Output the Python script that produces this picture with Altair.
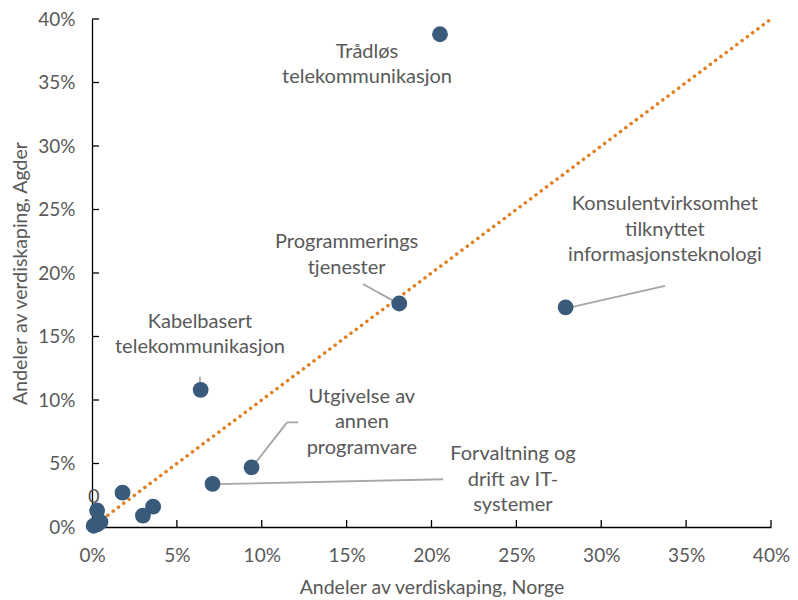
import altair as alt
import pandas as pd

# Data (shares, fraction)
norge = [0.205, 0.181, 0.279, 0.064, 0.094, 0.071, 0.018, 0.036, 0.030, 0.003, 0.001, 0.005, 0.003]
agder = [0.388, 0.176, 0.173, 0.108, 0.047, 0.034, 0.027, 0.016, 0.009, 0.013, 0.001, 0.004, 0.002]

label_text = [
    "Trådløs\ntelekommunikasjon",
    "Programmerings\ntjenester",
    "Konsulentvirksomhet\ntilknyttet\ninformasjonsteknologi",
    "Kabelbasert\ntelekommunikasjon",
    "Utgivelse av\nannen\nprogramvare",
    "Forvaltning og\ndrift av IT-\nsystemer",
    "0",
]
label_x = [0.162, 0.150, 0.3375, 0.0636, 0.159, 0.248, 0.001]
label_y = [0.3741, 0.2243, 0.2541, 0.1616, 0.1027, 0.0573, 0.0235]

lead_x = [0.1596, 0.3376, 0.0636, 0.1214, 0.1149, 0.2068]
lead_y = [0.1914, 0.1898, 0.1184, 0.0824, 0.0824, 0.0376]
lead_x2 = [0.1797, 0.2804, 0.0636, 0.1149, 0.0943, 0.0725]
lead_y2 = [0.1765, 0.1725, 0.1098, 0.0824, 0.0471, 0.0337]

ticks = [0, 0.05, 0.1, 0.15, 0.2, 0.25, 0.3, 0.35, 0.4]
diag = [0.0, 0.40]

pts = pd.DataFrame({"x": norge, "y": agder})
labels = pd.DataFrame({"x": label_x, "y": label_y, "t": label_text})
leads = pd.DataFrame({"x": lead_x, "y": lead_y, "x2": lead_x2, "y2": lead_y2})
dline = pd.DataFrame({"x": diag, "y": diag})
tk = pd.DataFrame({"v": ticks})

FONT = "Lato"
GREY = "#595959"

xs = alt.Scale(domain=[0, 0.40], nice=False, zero=True)
ys = alt.Scale(domain=[0, 0.40], nice=False, zero=True)

xax = alt.Axis(format=".0%", values=ticks, grid=False, domainColor="black", domainWidth=1.3,
               ticks=False, labelFlush=False,
               labelColor=GREY, labelFont=FONT, labelFontSize=19, labelPadding=19,
               title="Andeler av verdiskaping, Norge", titleColor=GREY, titleFont=FONT,
               titleFontSize=19.5, titleFontWeight="normal", titlePadding=13)
yax = alt.Axis(format=".0%", values=ticks, grid=False, domainColor="black", domainWidth=1.3,
               ticks=False, labelFlush=False,
               labelColor=GREY, labelFont=FONT, labelFontSize=19, labelPadding=17,
               title="Andeler av verdiskaping, Agder", titleColor=GREY, titleFont=FONT,
               titleFontSize=19.5, titleFontWeight="normal", titlePadding=7)

line = alt.Chart(dline).mark_line(color="#E07F1F", strokeWidth=3.5, strokeDash=[0.1, 6.5],
                                  strokeCap="round").encode(
    x=alt.X("x:Q", scale=xs, axis=xax),
    y=alt.Y("y:Q", scale=ys, axis=yax),
)

xticks = alt.Chart(tk).mark_rule(color="black", strokeWidth=1.3).encode(
    x=alt.X("v:Q", scale=xs), y=alt.value(508), y2=alt.value(501),
)
yticks = alt.Chart(tk).mark_rule(color="black", strokeWidth=1.3).encode(
    y=alt.Y("v:Q", scale=ys), x=alt.value(0), x2=alt.value(7),
)

leaders = alt.Chart(leads).mark_rule(color="#A6A6A6", strokeWidth=1.8).encode(
    x=alt.X("x:Q", scale=xs), y=alt.Y("y:Q", scale=ys),
    x2="x2:Q", y2="y2:Q",
)

points = alt.Chart(pts).mark_circle(size=250, color="#3A5A7C", opacity=1).encode(
    x=alt.X("x:Q", scale=xs), y=alt.Y("y:Q", scale=ys),
)

text = alt.Chart(labels).mark_text(font=FONT, fontSize=20, color=GREY, lineBreak="\n",
                                   lineHeight=25.5, align="center", baseline="middle").encode(
    x=alt.X("x:Q", scale=xs), y=alt.Y("y:Q", scale=ys), text="t:N",
)

chart = alt.layer(line, xticks, yticks, leaders, points, text).properties(
    width=679, height=508,
    autosize=alt.AutoSizeParams(type="none"),
    padding={"left": 84, "top": 11, "right": 19, "bottom": 80},
).configure_view(stroke=None)

chart.save("out.html", embed_options={"renderer": "svg", "actions": False})
